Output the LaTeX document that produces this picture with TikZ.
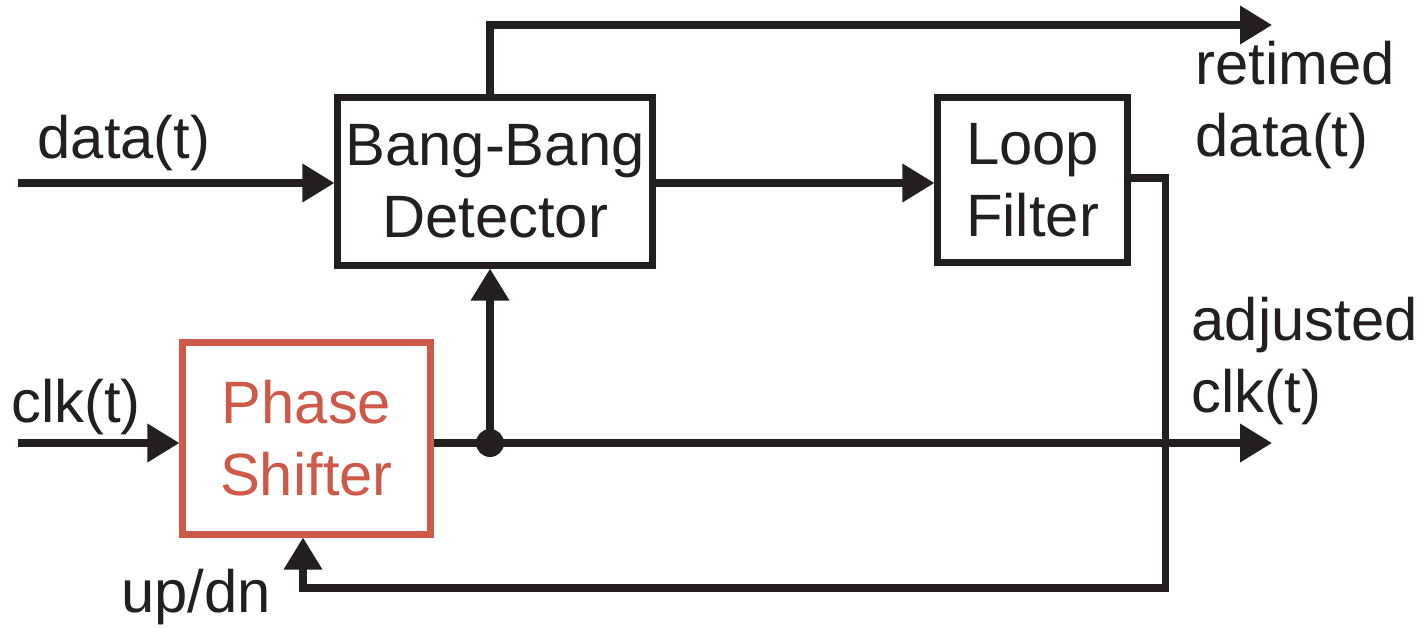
\documentclass[tikz,border=0pt]{standalone}
\usepackage{fontspec}
\setmainfont{Liberation Sans}
\usetikzlibrary{arrows.meta}
\definecolor{ink}{RGB}{35,31,32}
\definecolor{psred}{RGB}{206,89,72}
\tikzset{
  blk/.style={draw=ink, line width=2pt, align=center, inner sep=0pt,
    font=\fontsize{17}{20.5}\selectfont, text=ink},
  sig/.style={draw=ink, line width=2pt, -{Triangle[length=3.2mm,width=3.7mm]}},
  wire/.style={draw=ink, line width=2pt},
  lbl/.style={align=left, inner sep=0pt, font=\fontsize{17}{20.5}\selectfont, text=ink},
  dot/.style={circle, fill=ink, inner sep=0pt, minimum size=2.8mm}
}
\begin{document}
\begin{tikzpicture}[x=0.01cm, y=-0.01cm]
  \useasboundingbox (0,0) rectangle (1425,627);
  % blocks
  \node[blk, minimum width=3.14cm, minimum height=1.67cm] (bbd) at (495,181.5) {Bang-Bang\\Detector};
  \node[blk, minimum width=1.89cm, minimum height=1.64cm] (lf) at (1032.5,180) {Loop\\Filter};
  \node[blk, draw=psred, text=psred, minimum width=2.47cm, minimum height=1.91cm] (ps) at (306.5,438.5) {Phase\\Shifter};
  % ends
  \coordinate (datain) at (18,183);
  \coordinate (clkin) at (18,443);
  \coordinate (retout) at (1272,25);
  \coordinate (clkout) at (1272,443);
  \coordinate (fbk) at (1165,588);
  % connections
  \draw[sig] (datain) -- (datain -| bbd.west);
  \draw[sig] (clkin) -- (clkin -| ps.west);
  \draw[sig] (bbd.north -| 490,0) |- (retout);
  \draw[sig] (bbd.east |- 0,183) -- (lf.west |- 0,183);
  \draw[sig] (lf.east |- 0,178) -| (fbk) -| (ps.south -| 303,0);
  \draw[sig] (ps.east |- clkout) -- (clkout);
  \node[dot] (tap) at (490,443) {};
  \draw[sig] (tap.center) -- (bbd.south -| tap);
  % labels
  \node[lbl] (datalbl) at (124,143) {data(t)};
  \node[lbl] (clklbl) at (76,407) {clk(t)};
  \node[lbl] (updn) at (196,597) {up/dn};
  \node[lbl, anchor=west] (retlbl) at (1195,105) {retimed\\data(t)};
  \node[lbl, anchor=west] (adjlbl) at (1191,361) {adjusted\\clk(t)};
\end{tikzpicture}
\end{document}
